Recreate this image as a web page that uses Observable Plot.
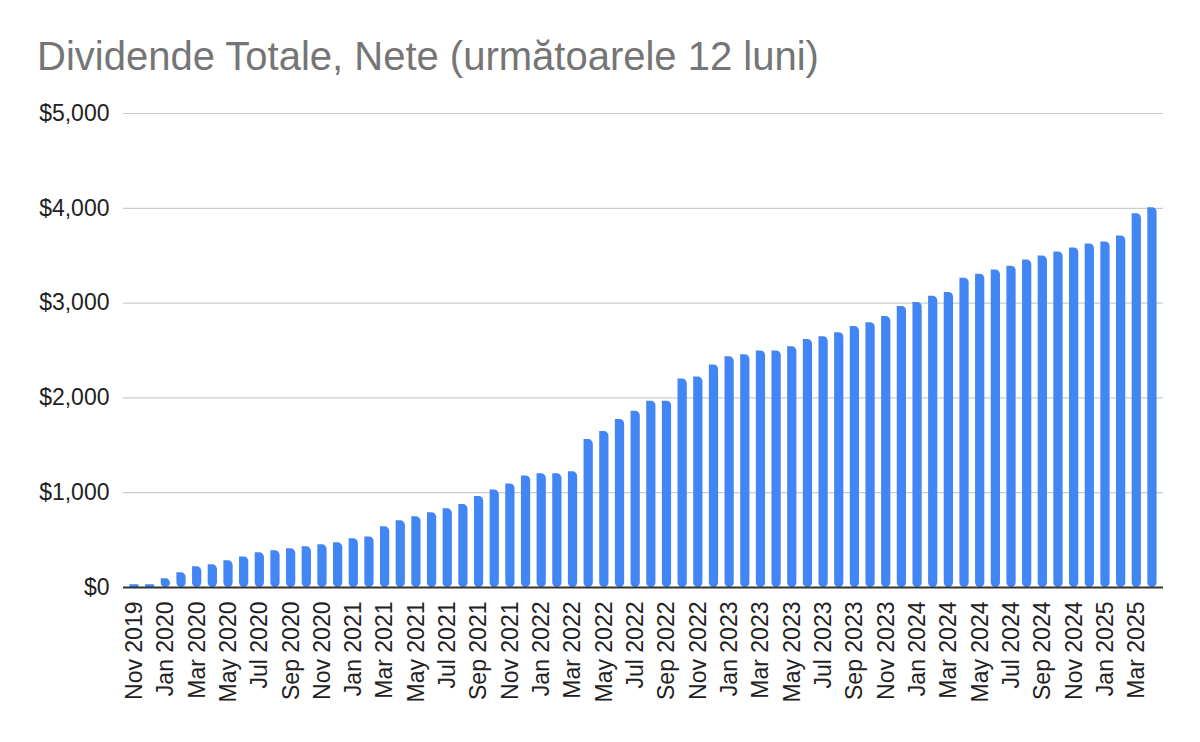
<!DOCTYPE html>
<html>
<head>
<meta charset="utf-8">
<script src="https://cdn.jsdelivr.net/npm/d3@7"></script>
<script src="https://cdn.jsdelivr.net/npm/@observablehq/plot@0.6"></script>
<style>
  html, body { margin: 0; padding: 0; background: #fff; }
  #title {
    box-sizing: border-box;
    height: 90px;
    padding: 36px 0 0 37px;
    line-height: 40px;
    font-family: "Liberation Sans", Arial, sans-serif;
    font-size: 40px;
    color: #757575;
    white-space: nowrap;
  }
  #chart svg { display: block; }
</style>
</head>
<body>
<div id="title">Dividende Totale, Nete (următoarele 12 luni)</div>
<div id="chart"></div>
<script>
const months = [
  "Nov 2019","Dec 2019",
  "Jan 2020","Feb 2020","Mar 2020","Apr 2020","May 2020","Jun 2020","Jul 2020","Aug 2020","Sep 2020","Oct 2020","Nov 2020","Dec 2020",
  "Jan 2021","Feb 2021","Mar 2021","Apr 2021","May 2021","Jun 2021","Jul 2021","Aug 2021","Sep 2021","Oct 2021","Nov 2021","Dec 2021",
  "Jan 2022","Feb 2022","Mar 2022","Apr 2022","May 2022","Jun 2022","Jul 2022","Aug 2022","Sep 2022","Oct 2022","Nov 2022","Dec 2022",
  "Jan 2023","Feb 2023","Mar 2023","Apr 2023","May 2023","Jun 2023","Jul 2023","Aug 2023","Sep 2023","Oct 2023","Nov 2023","Dec 2023",
  "Jan 2024","Feb 2024","Mar 2024","Apr 2024","May 2024","Jun 2024","Jul 2024","Aug 2024","Sep 2024","Oct 2024","Nov 2024","Dec 2024",
  "Jan 2025","Feb 2025","Mar 2025","Apr 2025"
];
const dividends = [
  28, 28,
  91, 155, 218, 239, 281, 323, 366, 387, 408, 429, 450, 471,
  513, 534, 640, 703, 745, 788, 830, 875, 960, 1028, 1092, 1177,
  1199, 1199, 1220, 1560, 1645, 1773, 1858, 1965, 1965, 2199, 2220, 2348,
  2433, 2454, 2496, 2496, 2539, 2615, 2645, 2688, 2752, 2794, 2858, 2965,
  3007, 3071, 3113, 3262, 3305, 3348, 3390, 3454, 3496, 3539, 3582, 3624,
  3645, 3709, 3943, 4007
];
const yTicks = [0, 1000, 2000, 3000, 4000, 5000];
const xTicks = months.filter((d, i) => i % 2 === 0);

const data = months.map((m, i) => ({month: m, value: dividends[i]}));

const chart = Plot.plot({
  width: 1200,
  height: 652,
  marginTop: 23,
  marginBottom: 155,
  marginLeft: 123,
  marginRight: 37,
  style: {fontFamily: "'Liberation Sans', Arial, sans-serif", fontSize: "23px", color: "#222", background: "#fff"},
  x: {domain: months, padding: 0.41, label: null},
  y: {domain: [0, 5000], label: null},
  marks: [
    Plot.gridY(yTicks, {stroke: "#cccccc", strokeOpacity: 1, strokeWidth: 1.2}),
    Plot.axisY({ticks: yTicks, tickFormat: d3.format("$,"), tickSize: 0, tickPadding: 14, fontSize: 23, label: null}),
    Plot.barY(data, {x: "month", y: "value", fill: "#4285f4", ry2: 4.6, rx2: 4.6}),
    Plot.ruleY([0], {stroke: "#333333", strokeWidth: 2}),
    Plot.axisX({ticks: xTicks, tickRotate: -90, tickSize: 0, tickPadding: 14, fontSize: 23, label: null})
  ]
});
document.getElementById("chart").appendChild(chart);
</script>
</body>
</html>
